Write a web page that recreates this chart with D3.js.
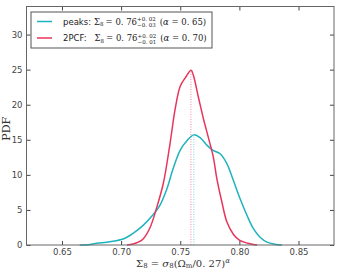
<!DOCTYPE html>
<html>
<head>
<meta charset="utf-8">
<script src="https://cdn.jsdelivr.net/npm/d3@7"></script>
<style>
  body { margin: 0; background: #fff; }
  svg { display: block; }
</style>
</head>
<body>
<script>
// size and plot box
var w = 338;
var h = 270;
var margin = {left: 26.5, right: 4, top: 6.5, bottom: 25};

// peaks posterior
var peaksX = [0.665, 0.672, 0.6794, 0.6906, 0.7017, 0.7101, 0.7186, 0.7270, 0.7329, 0.7389, 0.7440, 0.7499, 0.7558, 0.7615, 0.7668, 0.7727, 0.7778, 0.7837, 0.7894, 0.7947, 0.8006, 0.8065, 0.8116, 0.8175, 0.8234, 0.8300, 0.836];
var peaksY = [0, 0.05, 0.24, 0.47, 0.85, 1.66, 2.8, 4.3, 5.7, 8.1, 10.9, 13.5, 14.9, 15.7, 15.3, 14.2, 13.5, 13.0, 11.6, 9.3, 6.6, 4.2, 2.4, 1.1, 0.4, 0.1, 0];
// 2PCF posterior
var pcfX = [0.705, 0.710, 0.7145, 0.7188, 0.7245, 0.7302, 0.7357, 0.7414, 0.7457, 0.7499, 0.7541, 0.7592, 0.7611, 0.7653, 0.7696, 0.7738, 0.7780, 0.7809, 0.7851, 0.7894, 0.7950, 0.8000, 0.8034, 0.8080, 0.8119, 0.815];
var pcfY = [0, 0.15, 0.4, 0.9, 2.5, 5.4, 8.8, 14.5, 19.4, 22.6, 23.8, 24.9, 24.2, 21.1, 18.0, 15.3, 12.5, 9.5, 6.2, 3.3, 1.5, 0.7, 0.45, 0.2, 0.08, 0];
// medians
var peaksMed = 0.7615, peaksMedY = 15.7;
var pcfMed = 0.759, pcfMedY = 24.9;

var xTicks = [0.65, 0.70, 0.75, 0.80, 0.85];
var yTicks = [0, 5, 10, 15, 20, 25, 30];

var cyan = "#1fb3bd";
var red = "#e8355b";

var svg = d3.select("body").append("svg")
            .attr("width", w)
            .attr("height", h);

var xScale = d3.scaleLinear().domain([0.62, 0.88]).range([margin.left, w - margin.right]);
var yScale = d3.scaleLinear().domain([0, 34]).range([h - margin.bottom, margin.top]);

var line = d3.line()
             .x(function(d) { return xScale(d[0]); })
             .y(function(d) { return yScale(d[1]); })
             .curve(d3.curveCatmullRom.alpha(0.5));

// median markers
svg.append("line")
   .attr("x1", xScale(pcfMed)).attr("x2", xScale(pcfMed))
   .attr("y1", yScale(0)).attr("y2", yScale(pcfMedY))
   .attr("stroke", "#f28aa2").attr("stroke-width", 1)
   .attr("stroke-dasharray", "1,1.5");
svg.append("line")
   .attr("x1", xScale(peaksMed)).attr("x2", xScale(peaksMed))
   .attr("y1", yScale(0)).attr("y2", yScale(peaksMedY))
   .attr("stroke", "#7fd6dc").attr("stroke-width", 1)
   .attr("stroke-dasharray", "1,1.5");

svg.append("path")
   .datum(d3.zip(peaksX, peaksY))
   .attr("d", line)
   .attr("fill", "none").attr("stroke", cyan).attr("stroke-width", 1.5);
svg.append("path")
   .datum(d3.zip(pcfX, pcfY))
   .attr("d", line)
   .attr("fill", "none").attr("stroke", red).attr("stroke-width", 1.5);

/*** axes, ticks pointing inwards on all four sides ***/
var tickFont = function(g) {
  g.selectAll("text").attr("fill", "#444").style("font-family", "DejaVu Sans").style("font-size", "8.5px");
  g.selectAll("line").attr("stroke", "#444");
  g.select(".domain").remove();
};
svg.append("g")
   .attr("transform", "translate(0," + yScale(0) + ")")
   .call(d3.axisBottom(xScale).tickValues(xTicks).tickFormat(d3.format(".2f")).tickSizeInner(-4).tickPadding(3.5))
   .call(tickFont);
svg.append("g")
   .attr("transform", "translate(0," + margin.top + ")")
   .call(d3.axisTop(xScale).tickValues(xTicks).tickFormat("").tickSizeInner(-4))
   .call(tickFont);
svg.append("g")
   .attr("transform", "translate(" + margin.left + ",0)")
   .call(d3.axisLeft(yScale).tickValues(yTicks).tickSizeInner(-4).tickPadding(4))
   .call(tickFont);
svg.append("g")
   .attr("transform", "translate(" + (w - margin.right) + ",0)")
   .call(d3.axisRight(yScale).tickValues(yTicks).tickFormat("").tickSizeInner(-4))
   .call(tickFont);

svg.append("rect")
   .attr("x", margin.left).attr("y", margin.top)
   .attr("width", w - margin.right - margin.left)
   .attr("height", yScale(0) - margin.top)
   .attr("fill", "none").attr("stroke", "#666").attr("stroke-width", 1);

/*** axis labels ***/
var xl = svg.append("text")
   .attr("x", 183).attr("y", 266.5)
   .attr("text-anchor", "middle")
   .style("font-family", "DejaVu Serif").style("font-size", "10px").attr("fill", "#333");
xl.append("tspan").text("Σ");
xl.append("tspan").text("8").attr("dy", 1.5).style("font-size", "7px");
xl.append("tspan").text(" = ").attr("dy", -1.5);
xl.append("tspan").text("σ").style("font-style", "italic");
xl.append("tspan").text("8").attr("dy", 1.5).style("font-size", "7px");
xl.append("tspan").text("(Ω").attr("dy", -1.5);
xl.append("tspan").text("m").attr("dy", 1.5).style("font-size", "7px");
xl.append("tspan").text("/0. 27)").attr("dy", -1.5);
xl.append("tspan").text("α").attr("dy", -3.5).style("font-size", "7px").style("font-style", "italic");

svg.append("text")
   .attr("transform", "translate(10," + ((yScale(0) + margin.top) / 2 + 3) + ") rotate(-90)")
   .attr("text-anchor", "middle")
   .style("font-family", "DejaVu Serif").style("font-size", "11px").attr("fill", "#333")
   .text("PDF");

/*** legend ***/
var legend = svg.append("g");
legend.append("rect")
   .attr("x", 31).attr("y", 12).attr("width", 181).attr("height", 36)
   .attr("fill", "#fff").attr("stroke", "#555").attr("stroke-width", 1);

var entries = [
  {name: "peaks:", color: cyan, sup: "+0. 02", sub: "−0. 03", val: "0. 76", alpha: "0. 65", gap: 3},
  {name: "2PCF:", color: red, sup: "+0. 02", sub: "−0. 01", val: "0. 76", alpha: "0. 70", gap: 8}
];
entries.forEach(function(e, i) {
  var y = 21.5 + i * 16.5;
  legend.append("line")
     .attr("x1", 37).attr("x2", 52).attr("y1", y).attr("y2", y)
     .attr("stroke", e.color).attr("stroke-width", 1.5);
  var cx = 63;
  var put = function(str, size, dy, fam, style) {
    var t = legend.append("text")
       .attr("x", cx).attr("y", y + 3 + dy)
       .style("font-family", fam).style("font-size", size + "px")
       .style("font-style", style || "normal")
       .style("white-space", "pre")
       .attr("fill", "#222").text(str);
    return t.node().getComputedTextLength();
  };
  cx += put(e.name, 8.5, 0, "DejaVu Sans") + e.gap;
  cx += put("Σ", 8.5, 0, "DejaVu Serif");
  cx += put("8", 5.5, 1.5, "DejaVu Serif") + 2;
  cx += put("= " + e.val, 8.5, 0, "DejaVu Serif");
  var a = put(e.sup, 5.5, -3.5, "DejaVu Serif");
  var b = put(e.sub, 5.5, 2.5, "DejaVu Serif");
  cx += Math.max(a, b) + 4;
  cx += put("(", 8.5, 0, "DejaVu Serif");
  cx += put("α", 8.5, 0, "DejaVu Serif", "italic");
  put(" = " + e.alpha + ")", 8.5, 0, "DejaVu Serif");
});
</script>
</body>
</html>
